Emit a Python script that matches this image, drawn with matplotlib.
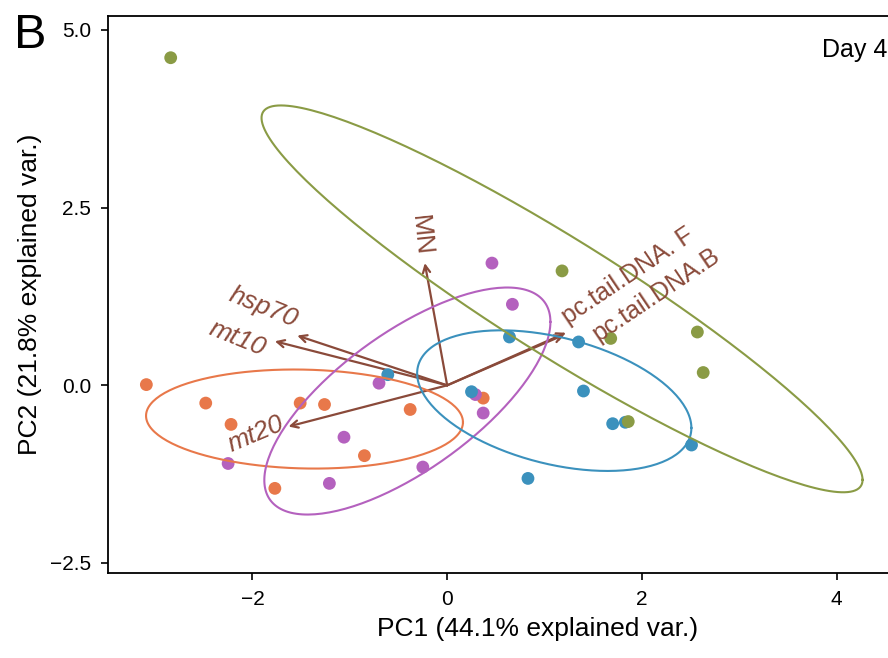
import numpy as np
import matplotlib
matplotlib.use("Agg")
import matplotlib.pyplot as plt

# PCA scores per group
orange_x = [-3.09, -2.48, -2.22, -1.51, -1.26, -0.38, -0.85, -1.77, 0.37]
orange_y = [0.01, -0.25, -0.55, -0.25, -0.27, -0.34, -0.99, -1.45, -0.18]
purple_x = [0.46, 0.67, -0.70, 0.29, 0.37, -1.06, -0.25, -1.21, -2.25]
purple_y = [1.72, 1.14, 0.03, -0.13, -0.39, -0.73, -1.15, -1.38, -1.10]
blue_x = [-0.61, 0.25, 0.64, 1.35, 1.40, 1.70, 1.83, 2.51, 0.83]
blue_y = [0.15, -0.09, 0.68, 0.61, -0.08, -0.54, -0.52, -0.84, -1.31]
green_x = [-2.84, 1.18, 1.68, 2.57, 2.63, 1.86]
green_y = [4.61, 1.61, 0.66, 0.75, 0.18, -0.51]

groups = [
    (orange_x, orange_y, "#E8784A"),
    (purple_x, purple_y, "#B461BE"),
    (blue_x, blue_y, "#3B91BD"),
    (green_x, green_y, "#8A9B45"),
]

# variable loadings (arrow tips)
var_names = ["MN", "hsp70", "mt10", "mt20", "pc.tail.DNA. F", "pc.tail.DNA.B"]
var_x = [-0.23, -1.54, -1.77, -1.63, 1.22, 1.20]
var_y = [1.72, 0.70, 0.62, -0.58, 0.74, 0.71]
label_x = [-0.27, -1.89, -2.16, -1.97, 1.86, 2.15]
label_y = [2.11, 1.10, 0.66, -0.69, 1.53, 1.28]
label_rot = [-84, -22, -22, 23, 34, 34]
label_size = [19, 19, 19, 19, 18, 18]
label_italic = [False, True, True, True, False, False]

ELL_PROB = 0.68
BROWN = "#8A4A3A"
FONT = ["Liberation Sans", "DejaVu Sans"]


def ellipse(xs, ys, prob=ELL_PROB, n=200):
    xy = np.column_stack([xs, ys])
    mu = xy.mean(axis=0)
    cov = np.cov(xy, rowvar=False)
    r = np.sqrt(-2 * np.log(1 - prob))
    t = np.linspace(0, 2 * np.pi, n)
    circ = np.column_stack([np.cos(t), np.sin(t)])
    pts = r * circ @ np.linalg.cholesky(cov).T
    return pts[:, 0] + mu[0], pts[:, 1] + mu[1]


fig = plt.figure(figsize=(8.88, 6.58), dpi=100)
# panel runs past the right edge of the figure (cropped like the original)
ax = fig.add_axes([108 / 888, 85 / 658, 860 / 888, 557 / 658])

for i in range(len(var_names)):
    ax.annotate("", xy=(var_x[i], var_y[i]), xytext=(0, 0),
                arrowprops=dict(arrowstyle="->", color=BROWN, lw=1.6,
                                mutation_scale=13, shrinkA=0, shrinkB=0),
                zorder=1)

for xs, ys, col in groups:
    ax.scatter(xs, ys, s=85, color=col, edgecolors="none", zorder=2)

for xs, ys, col in groups:
    ex, ey = ellipse(xs, ys)
    ax.plot(ex, ey, color=col, lw=1.5, zorder=3)

for i in range(len(var_names)):
    ax.text(label_x[i], label_y[i], var_names[i], rotation=label_rot[i],
            rotation_mode="anchor", ha="center", va="center",
            fontsize=label_size[i], color=BROWN, family=FONT,
            style="italic" if label_italic[i] else "normal", zorder=4)

ax.set_xlim(-3.484, 5.35)
ax.set_ylim(-2.641, 5.197)
ax.set_xticks([-2, 0, 2, 4])
ax.set_yticks([-2.5, 0.0, 2.5, 5.0])
ax.set_yticklabels(["\u22122.5", "0.0", "2.5", "5.0"])
ax.set_xticklabels(["\u22122", "0", "2", "4"])
ax.tick_params(direction="out", length=5, width=1.2, labelsize=15, pad=7)
for lab in ax.get_xticklabels() + ax.get_yticklabels():
    lab.set_family(FONT)
for sp in ax.spines.values():
    sp.set_linewidth(1.3)

ax.set_xlabel("PC1 (44.1% explained var.)", fontsize=19, family=FONT, labelpad=6)
ax.set_ylabel("PC2 (21.8% explained var.)", fontsize=19, family=FONT, labelpad=6)

fig.text(822 / 888, 1 - 50 / 658, "Day 4", fontsize=18, family=FONT,
         ha="left", va="center")
fig.text(14 / 888, 1 - 36 / 658, "B", fontsize=35, family=FONT,
         ha="left", va="center")

fig.savefig("out.png", dpi=100)
